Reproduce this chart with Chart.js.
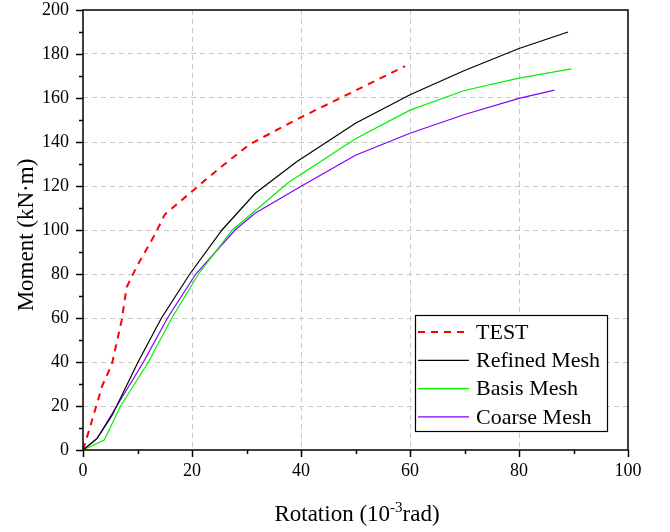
<!DOCTYPE html>
<html lang="en">
<head>
    <meta charset="UTF-8">
    <title>Moment - Rotation</title>
    <script src="https://cdn.jsdelivr.net/npm/chart.js"></script>
    <style>
        body {
            margin: 0;
            background: #fff;
        }
        #wrap {
            width: 670px;
            height: 532px;
        }
    </style>
</head>
<body>
    <div id="wrap">
        <canvas id="mrChart" width="670" height="532"></canvas>
    </div>

    <script>
        // Data (rotation in 10^-3 rad, moment in kN·m)
        const testRot      = [0, 1, 3.5, 5.3, 7.1, 8, 10, 13.2, 15, 20.2, 25, 30.6, 39.8, 50.5, 59.1];
        const testMoment   = [0, 8, 29, 39, 59, 74, 84, 98, 107, 118, 128, 139, 151, 164, 174.5];

        const refinedRot    = [0, 2.6, 5.4, 10.1, 14.4, 19.6, 25.5, 31.6, 39.2, 50, 60, 70, 80, 89];
        const refinedMoment = [0, 5.3, 16, 40, 60, 80, 100, 116.7, 131, 148.5, 161.5, 172.5, 182.5, 190];

        const basisRot      = [0, 3.9, 6.9, 12, 16.3, 21.2, 27.4, 37.7, 50, 60, 70, 80, 89.6];
        const basisMoment   = [0, 4.5, 20, 40, 60, 80, 100, 121.6, 141.5, 154.5, 163.4, 169, 173.2];

        const coarseRot     = [0, 2.6, 6.2, 11.1, 15.5, 20.7, 27.9, 31.5, 40.1, 50, 60, 70, 80, 86.5];
        const coarseMoment  = [0, 5.3, 20, 40, 60, 80, 100, 107.5, 120, 134, 144, 152.5, 159.8, 163.6];

        const seriesNames = ['TEST', 'Refined Mesh', 'Basis Mesh', 'Coarse Mesh'];

        const serif = "'Liberation Serif', 'Times New Roman', serif";

        function toPoints(xs, ys) {
            return xs.map((x, i) => ({ x: x, y: ys[i] }));
        }

        // grid lines only between the frame edges
        function innerGrid(max) {
            return (ctx) => (ctx.tick && (ctx.tick.value === 0 || ctx.tick.value === max)) ? 'rgba(0,0,0,0)' : '#c8c8c8';
        }

        // frame, tick marks, axis titles and the boxed legend
        const decorations = {
            id: 'decorations',
            afterDraw(chart) {
                const ctx = chart.ctx;
                const area = chart.chartArea;
                const xs = chart.scales.x;
                const ys = chart.scales.y;

                ctx.save();
                ctx.strokeStyle = '#000';
                ctx.lineWidth = 1.5;
                ctx.setLineDash([]);
                ctx.strokeRect(area.left, area.top, area.right - area.left, area.bottom - area.top);

                // x ticks (outside, below)
                for (let v = 0; v <= 100; v += 10) {
                    const px = Math.round(xs.getPixelForValue(v)) + 0.5;
                    const len = v % 20 === 0 ? 7 : 4;
                    ctx.beginPath();
                    ctx.moveTo(px, area.bottom);
                    ctx.lineTo(px, area.bottom + len);
                    ctx.stroke();
                }
                // y ticks (outside, left)
                for (let v = 0; v <= 200; v += 10) {
                    const py = Math.round(ys.getPixelForValue(v)) + 0.5;
                    const len = v % 20 === 0 ? 7 : 4;
                    ctx.beginPath();
                    ctx.moveTo(area.left, py);
                    ctx.lineTo(area.left - len, py);
                    ctx.stroke();
                }

                // x title with superscript
                ctx.fillStyle = '#000';
                ctx.textBaseline = 'alphabetic';
                ctx.textAlign = 'left';
                const big = '23px ' + serif;
                const small = '15px ' + serif;
                const p1 = 'Rotation (10', p2 = '-3', p3 = 'rad)';
                ctx.font = big;
                const w1 = ctx.measureText(p1).width;
                const w3 = ctx.measureText(p3).width;
                ctx.font = small;
                const w2 = ctx.measureText(p2).width;
                let tx = 357 - (w1 + w2 + w3) / 2;
                const base = 521;
                ctx.font = big;
                ctx.fillText(p1, tx, base);
                tx += w1;
                ctx.font = small;
                ctx.fillText(p2, tx, base - 9);
                tx += w2;
                ctx.font = big;
                ctx.fillText(p3, tx, base);

                // y title
                ctx.save();
                ctx.translate(27, 235);
                ctx.rotate(-Math.PI / 2);
                ctx.textAlign = 'center';
                ctx.textBaseline = 'middle';
                ctx.font = big;
                ctx.fillText('Moment (kN·m)', 0, 0);
                ctx.restore();

                // legend box
                const lx = 415.5, ly = 315.5, lw = 192, lh = 116;
                ctx.fillStyle = '#fff';
                ctx.fillRect(lx, ly, lw, lh);
                ctx.lineWidth = 1.2;
                ctx.strokeStyle = '#000';
                ctx.strokeRect(lx, ly, lw, lh);

                ctx.font = '22px ' + serif;
                ctx.textAlign = 'left';
                ctx.textBaseline = 'middle';
                chart.data.datasets.forEach((ds, i) => {
                    const rowY = 332 + i * 28.3;
                    ctx.strokeStyle = ds.borderColor;
                    ctx.lineWidth = ds.borderWidth;
                    ctx.setLineDash(ds.borderDash || []);
                    ctx.beginPath();
                    ctx.moveTo(418, rowY);
                    ctx.lineTo(469, rowY);
                    ctx.stroke();
                    ctx.setLineDash([]);
                    ctx.fillStyle = '#000';
                    ctx.fillText(ds.label, 476, rowY + 1);
                });
                ctx.restore();
            }
        };

        const chart = new Chart(document.getElementById('mrChart').getContext('2d'), {
            type: 'line',
            data: {
                datasets: [
                    {
                        label: seriesNames[0],
                        data: toPoints(testRot, testMoment),
                        borderColor: '#ff0000',
                        borderWidth: 2,
                        borderDash: [7, 6]
                    },
                    {
                        label: seriesNames[1],
                        data: toPoints(refinedRot, refinedMoment),
                        borderColor: '#000000',
                        borderWidth: 1.2
                    },
                    {
                        label: seriesNames[2],
                        data: toPoints(basisRot, basisMoment),
                        borderColor: '#00f000',
                        borderWidth: 1.2
                    },
                    {
                        label: seriesNames[3],
                        data: toPoints(coarseRot, coarseMoment),
                        borderColor: '#8000ff',
                        borderWidth: 1.2
                    }
                ]
            },
            options: {
                responsive: false,
                animation: false,
                events: [],
                elements: {
                    point: { radius: 0 },
                    line: { tension: 0, fill: false }
                },
                layout: {
                    padding: { top: 10, right: 42, left: 0, bottom: 0 }
                },
                plugins: {
                    legend: { display: false },
                    tooltip: { enabled: false }
                },
                scales: {
                    x: {
                        type: 'linear',
                        min: 0,
                        max: 100,
                        afterFit(scale) {
                            scale.height = 82;
                            scale.paddingLeft = 0;
                            scale.paddingRight = 0;
                        },
                        ticks: {
                            stepSize: 20,
                            padding: 10,
                            color: '#000',
                            font: { family: serif, size: 18 },
                            maxRotation: 0
                        },
                        grid: {
                            drawTicks: false,
                            color: innerGrid(100),
                            lineWidth: 1
                        },
                        border: { display: false, dash: [5, 4] }
                    },
                    y: {
                        type: 'linear',
                        min: 0,
                        max: 200,
                        afterFit(scale) {
                            scale.width = 83;
                            scale.paddingTop = 0;
                            scale.paddingBottom = 0;
                        },
                        ticks: {
                            stepSize: 20,
                            padding: 14,
                            color: '#000',
                            font: { family: serif, size: 18 }
                        },
                        grid: {
                            drawTicks: false,
                            color: innerGrid(200),
                            lineWidth: 1
                        },
                        border: { display: false, dash: [5, 4] }
                    }
                }
            },
            plugins: [decorations]
        });
    </script>
</body>
</html>
